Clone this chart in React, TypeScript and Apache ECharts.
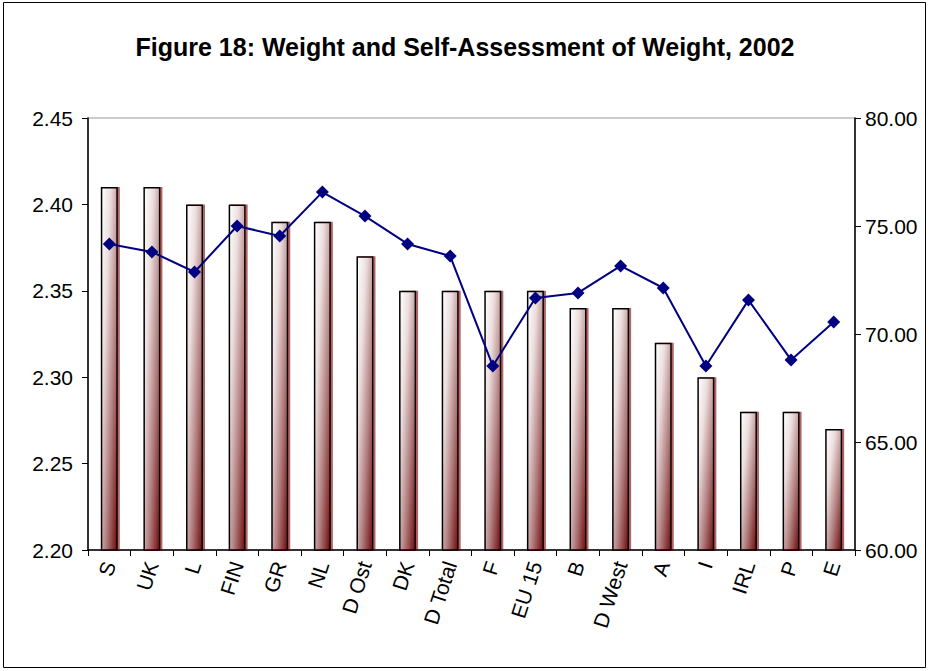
import React, { useEffect, useRef } from "react";
import * as echarts from "echarts";

const categories = ["S", "UK", "L", "FIN", "GR", "NL", "D Ost", "DK", "D Total", "F", "EU 15", "B", "D West", "A", "I", "IRL", "P", "E"];
const selfAssessment = [2.41, 2.41, 2.40, 2.40, 2.39, 2.39, 2.37, 2.35, 2.35, 2.35, 2.35, 2.34, 2.34, 2.32, 2.30, 2.28, 2.28, 2.27];
const weight = [74.17, 73.8, 72.87, 75.0, 74.54, 76.57, 75.46, 74.17, 73.61, 68.52, 71.67, 71.9, 73.15, 72.13, 68.52, 71.57, 68.8, 70.56];
const title = "Figure 18: Weight and Self-Assessment of Weight, 2002";

export default function App() {
  const ref = useRef<HTMLDivElement>(null);
  useEffect(() => {
    if (!ref.current) return;
    const chart = echarts.init(ref.current, null, { renderer: "svg" });
    const font = "Arial, 'Liberation Sans', sans-serif";
    chart.setOption({
      animation: false,
      backgroundColor: "#ffffff",
      title: {
        text: title,
        left: "center",
        top: 29,
        textStyle: { fontFamily: font, fontSize: 25, fontWeight: "bold", color: "#000" },
      },
      graphic: [
        {
          type: "rect",
          shape: { x: 3.5, y: 2.5, width: 922, height: 665 },
          style: { fill: "none", stroke: "#000", lineWidth: 1 },
          silent: true,
        },
      ],
      grid: {
        left: 88,
        right: 75,
        top: 118,
        bottom: 121,
        show: true,
        borderColor: "#999",
        borderWidth: 1,
        containLabel: false,
      },
      xAxis: {
        type: "category",
        data: categories,
        axisLine: { lineStyle: { color: "#000", width: 1.5 } },
        axisTick: { show: true, length: 6, lineStyle: { color: "#000" } },
        axisLabel: {
          rotate: 72,
          fontFamily: font,
          fontSize: 21,
          color: "#000",
          margin: 12,
          interval: 0,
        },
      },
      yAxis: [
        {
          type: "value",
          min: 2.2,
          max: 2.45,
          interval: 0.05,
          position: "left",
          splitLine: { show: false },
          axisLine: { show: true, lineStyle: { color: "#000", width: 1.5 } },
          axisTick: { show: true, length: 6, lineStyle: { color: "#000" } },
          axisLabel: {
            fontFamily: font,
            fontSize: 21,
            color: "#000",
            margin: 15,
            formatter: (v: number) => v.toFixed(2),
          },
        },
        {
          type: "value",
          min: 60,
          max: 80,
          interval: 5,
          position: "right",
          splitLine: { show: false },
          axisLine: { show: true, lineStyle: { color: "#000", width: 1.5 } },
          axisTick: { show: true, length: 6, lineStyle: { color: "#000" } },
          axisLabel: {
            fontFamily: font,
            fontSize: 21,
            color: "#000",
            margin: 10,
            formatter: (v: number) => v.toFixed(2),
          },
        },
      ],
      series: [
        {
          type: "bar",
          yAxisIndex: 0,
          data: selfAssessment,
          barWidth: 17,
          itemStyle: {
            color: new echarts.graphic.LinearGradient(0, 0, 1, 1, [
              { offset: 0, color: "#ffffff" },
              { offset: 0.3, color: "#ecdede" },
              { offset: 0.65, color: "#b07c7c" },
              { offset: 1, color: "#6e0a0a" },
            ]),
            borderColor: "#000",
            borderWidth: 1.5,
            shadowColor: "rgba(120,0,0,0.6)",
            shadowOffsetX: 2,
            shadowOffsetY: 0,
            shadowBlur: 0,
          },
        },
        {
          type: "line",
          yAxisIndex: 1,
          data: weight,
          symbol: "diamond",
          symbolSize: 13,
          lineStyle: { color: "#000080", width: 2 },
          itemStyle: { color: "#000080" },
          z: 5,
        },
      ],
    });
    return () => chart.dispose();
  }, []);
  return (
    <div
      ref={ref}
      style={{ position: "absolute", left: 0, top: 0, width: 930, height: 671 }}
    />
  );
}
